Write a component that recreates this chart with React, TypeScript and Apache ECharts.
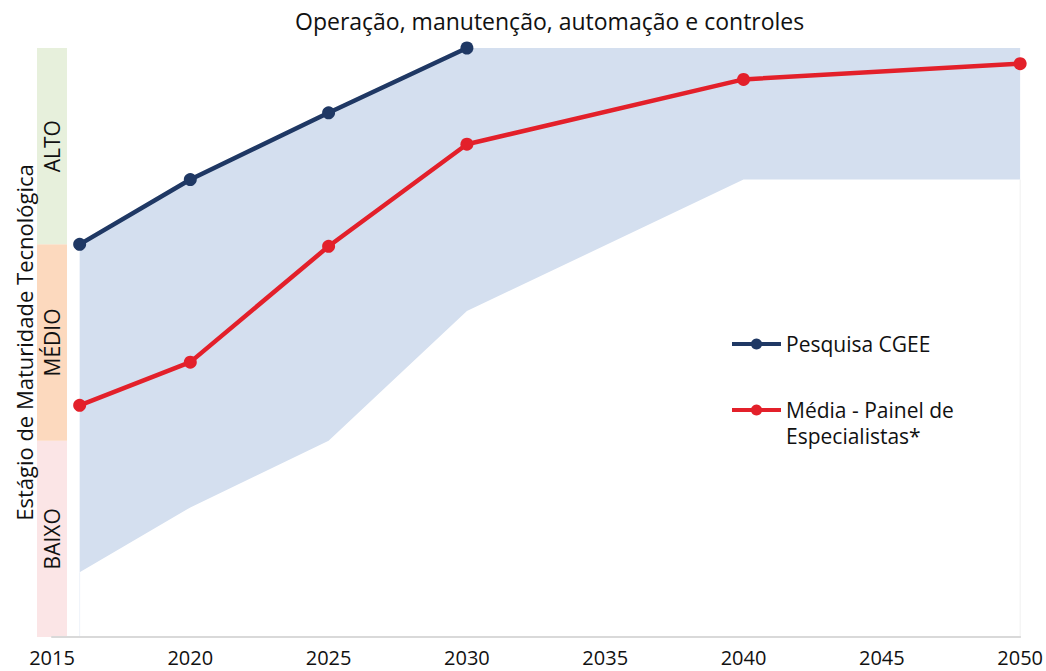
import React, { useEffect, useRef } from "react";
import * as echarts from "echarts";

const titleText = "Operação, manutenção, automação e controles";
const yAxisName = "Estágio de Maturidade Tecnológica";
const stageLabels = ["BAIXO", "MÉDIO", "ALTO"];
const stageColors = ["#fbe5e6", "#fcd9be", "#e7f0dc"];

const pesquisaName = "Pesquisa CGEE";
const mediaName = "Média - Painel de Especialistas*";
const mediaLine1 = "Média - Painel de";
const mediaLine2 = "Especialistas*";

const pesquisaData: [number, number][] = [
  [2016, 2.0],
  [2020, 2.33],
  [2025, 2.67],
  [2030, 3.0],
];
const mediaData: [number, number][] = [
  [2016, 1.18],
  [2020, 1.40],
  [2025, 1.99],
  [2030, 2.51],
  [2040, 2.84],
  [2050, 2.92],
];
const bandUpper: [number, number][] = [
  [2016, 2.0],
  [2020, 2.33],
  [2025, 2.67],
  [2030, 3.0],
  [2040, 3.0],
  [2050, 3.0],
];
const bandLower: [number, number][] = [
  [2016, 0.33],
  [2020, 0.66],
  [2025, 1.0],
  [2030, 1.66],
  [2040, 2.33],
  [2050, 2.33],
];

const FONT = "'Open Sans', 'Noto Sans', sans-serif";

export default function App() {
  const ref = useRef<HTMLDivElement>(null);
  useEffect(() => {
    if (!ref.current) return;
    const chart = echarts.init(ref.current, undefined, { renderer: "svg" });
    const gridTop = 48;
    const gridBottom = 34;
    const plotH = 671 - gridTop - gridBottom;
    const bandH = plotH / 3;

    const graphics: any[] = [];
    for (let i = 0; i < 3; i++) {
      const top = gridTop + plotH - (i + 1) * bandH;
      graphics.push({
        type: "rect",
        left: 37,
        top: top,
        shape: { width: 30, height: bandH },
        style: { fill: stageColors[i] },
        z: 0,
      });
      graphics.push({
        type: "text",
        x: 52,
        y: top + bandH / 2,
        rotation: Math.PI / 2,
        style: {
          text: stageLabels[i],
          font: `21px ${FONT}`,
          fill: "#111",
          align: "center",
          verticalAlign: "middle",
        },
        z: 1,
      });
    }
    graphics.push({
      type: "text",
      x: 24,
      y: gridTop + plotH / 2,
      rotation: Math.PI / 2,
      style: {
        text: yAxisName,
        font: `22px ${FONT}`,
        fill: "#111",
        align: "center",
        verticalAlign: "middle",
      },
    });
    graphics.push({
      type: "text",
      x: 786,
      y: 436,
      style: {
        text: mediaLine2,
        font: `21px ${FONT}`,
        fill: "#111",
        align: "left",
        verticalAlign: "middle",
      },
    });

    chart.setOption({
      animation: false,
      title: {
        text: titleText,
        left: 290,
        top: 4,
        textStyle: { fontFamily: FONT, fontSize: 23, fontWeight: "normal", color: "#111" },
      },
      grid: { left: 52, right: 25, top: gridTop, bottom: gridBottom },
      xAxis: {
        type: "value",
        min: 2015,
        max: 2050,
        interval: 5,
        z: 5,
        axisLine: { show: true, lineStyle: { color: "#d9d9d9", width: 2 } },
        axisTick: { show: false },
        splitLine: { show: false },
        axisLabel: { fontFamily: FONT, fontSize: 20, color: "#111", margin: 10, formatter: (v: number) => String(v) },
      },
      yAxis: {
        type: "value",
        min: 0,
        max: 3,
        interval: 1,
        axisLine: { show: false },
        axisTick: { show: false },
        axisLabel: { show: false },
        splitLine: { show: false },
      },
      legend: [
        {
          orient: "vertical",
          left: 725,
          top: 326,
          itemWidth: 49,
          itemHeight: 14,
          lineStyle: { width: 4 },
          data: [pesquisaName],
          textStyle: { fontFamily: FONT, fontSize: 21, color: "#111", lineHeight: 26 },
        },
        {
          orient: "vertical",
          left: 725,
          top: 392,
          itemWidth: 49,
          itemHeight: 14,
          lineStyle: { width: 4 },
          data: [mediaName],
          formatter: () => mediaLine1,
          textStyle: { fontFamily: FONT, fontSize: 21, color: "#111", lineHeight: 26 },
        },
      ],
      graphic: graphics,
      series: [
        {
          type: "custom",
          name: "band",
          silent: true,
          z: 1,
          data: [[2016, 0]],
          renderItem: (_params: any, api: any) => {
            const up = bandUpper.map((p) => api.coord(p));
            const lo = bandLower.map((p) => api.coord(p)).reverse();
            const base0 = api.coord([2016, 0]);
            const base1 = api.coord([2050, 0]);
            const lo0 = api.coord(bandLower[0]);
            const loN = api.coord(bandLower[bandLower.length - 1]);
            return {
              type: "group",
              children: [
                { type: "polygon", shape: { points: up.concat(lo) }, style: { fill: "#d4dfef" } },
                { type: "line", shape: { x1: base0[0], y1: base0[1], x2: lo0[0], y2: lo0[1] }, style: { stroke: "#eef2f9", lineWidth: 1 } },
                { type: "line", shape: { x1: base1[0], y1: base1[1], x2: loN[0], y2: loN[1] }, style: { stroke: "#f0f0f0", lineWidth: 1 } },
              ],
            };
          },
        },
        {
          type: "line",
          name: pesquisaName,
          data: pesquisaData,
          z: 3,
          color: "#1f3864",
          symbol: "circle",
          symbolSize: 13,
          lineStyle: { width: 4.5, color: "#1f3864" },
          itemStyle: { color: "#1f3864" },
        },
        {
          type: "line",
          name: mediaName,
          data: mediaData,
          z: 4,
          color: "#e3202a",
          symbol: "circle",
          symbolSize: 13,
          lineStyle: { width: 4.5, color: "#e3202a" },
          itemStyle: { color: "#e3202a" },
        },
      ],
    });
    return () => chart.dispose();
  }, []);
  return <div ref={ref} style={{ width: 1046, height: 671, position: "absolute", left: 0, top: 0 }} />;
}
